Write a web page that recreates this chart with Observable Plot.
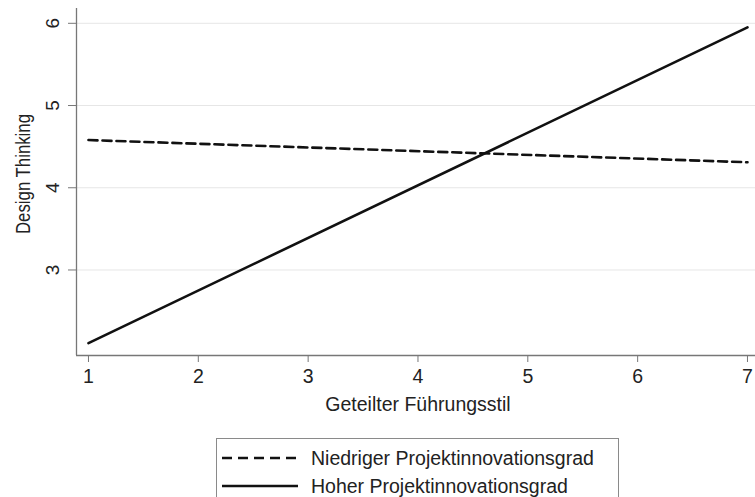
<!DOCTYPE html>
<html>
<head>
<meta charset="utf-8">
<script src="https://cdn.jsdelivr.net/npm/d3@7"></script>
<script src="https://cdn.jsdelivr.net/npm/@observablehq/plot@0.6"></script>
<style>
  html, body { margin: 0; padding: 0; background: #fff; overflow: hidden; }
  body { width: 755px; height: 497px; font-family: "Liberation Sans", Arial, sans-serif; }
  #legend { margin-left: 216px; margin-top: 8px; width: 403px; height: 72px; border: 1px solid #8a8a8a; box-sizing: border-box; padding-top: 5px; }
  .row { display: flex; align-items: center; height: 28px; font-size: 19.5px; color: #222; }
  .row svg { margin-left: 5px; margin-right: 13px; }
</style>
</head>
<body>
<div id="chart"></div>
<div id="legend"></div>
<script>
// Data
const xValues = [1, 7];
const niedrigValues = [4.58, 4.31];   // Niedriger Projektinnovationsgrad (dashed)
const hochValues = [2.11, 5.95];      // Hoher Projektinnovationsgrad (solid)
const seriesNames = ["Niedriger Projektinnovationsgrad", "Hoher Projektinnovationsgrad"];
const xTicks = [1, 2, 3, 4, 5, 6, 7];
const yTicks = [3, 4, 5, 6];
const xLabel = "Geteilter Führungsstil";
const yLabel = "Design Thinking";

const rows = [
  ...xValues.map((x, i) => ({series: seriesNames[0], x, y: niedrigValues[i]})),
  ...xValues.map((x, i) => ({series: seriesNames[1], x, y: hochValues[i]}))
];

const xDomain = [0.891, 7.073];
const yDomain = [1.96, 6.18];

const chart = Plot.plot({
  width: 755,
  height: 430,
  marginLeft: 76,
  marginRight: 0,
  marginTop: 8,
  marginBottom: 75,
  style: {fontFamily: "Liberation Sans, Arial, sans-serif", color: "#222", background: "#fff"},
  x: {domain: xDomain},
  y: {domain: yDomain},
  marks: [
    Plot.gridY(yTicks, {stroke: "#e6e6e6", strokeOpacity: 1, strokeWidth: 1}),
    Plot.ruleX([xDomain[0]], {stroke: "#777", strokeWidth: 1.3}),
    Plot.ruleY([yDomain[0]], {stroke: "#777", strokeWidth: 1.3}),
    Plot.axisX(xTicks, {tickSize: 7, tickPadding: 7, fontSize: 19.5, stroke: "#777", fill: "#222", label: null, tickFormat: d => String(d)}),
    Plot.axisY(yTicks, {tickSize: 8, stroke: "#777", label: null, tickFormat: () => ""}),
    Plot.text(yTicks, {y: d => d, frameAnchor: "left", textAnchor: "middle", lineAnchor: "middle", dx: -24, rotate: -90, text: d => String(d), fontSize: 19, fill: "#222"}),
    Plot.text([yLabel], {frameAnchor: "left", textAnchor: "middle", lineAnchor: "middle", dx: -53, dy: -8, rotate: -90, text: d => d, fontSize: 20, fill: "#222"}),
    Plot.text([xLabel], {frameAnchor: "bottom", dx: 2, dy: 55, text: d => d, fontSize: 19.5, fill: "#222"}),
    Plot.line(rows.filter(d => d.series === seriesNames[0]), {x: "x", y: "y", stroke: "#111", strokeWidth: 2.6, strokeDasharray: "9,5"}),
    Plot.line(rows.filter(d => d.series === seriesNames[1]), {x: "x", y: "y", stroke: "#111", strokeWidth: 2.6})
  ]
});
document.getElementById("chart").appendChild(chart);

// The reference image is slightly compressed vertically: squeeze the rotated y title to match
d3.select(chart).selectAll("text")
  .filter(function() { return this.textContent === yLabel; })
  .attr("textLength", 120)
  .attr("lengthAdjust", "spacingAndGlyphs");

// Legend
const legend = d3.select("#legend");
const dashes = ["10,6", null];
seriesNames.forEach((name, i) => {
  const row = legend.append("div").attr("class", "row");
  const svg = row.append("svg").attr("width", 76).attr("height", 20);
  svg.append("line").attr("x1", 0).attr("x2", 76).attr("y1", 10).attr("y2", 10)
    .attr("stroke", "#111").attr("stroke-width", 2.6)
    .attr("stroke-dasharray", dashes[i]);
  row.append("span").text(name);
});
</script>
</body>
</html>
